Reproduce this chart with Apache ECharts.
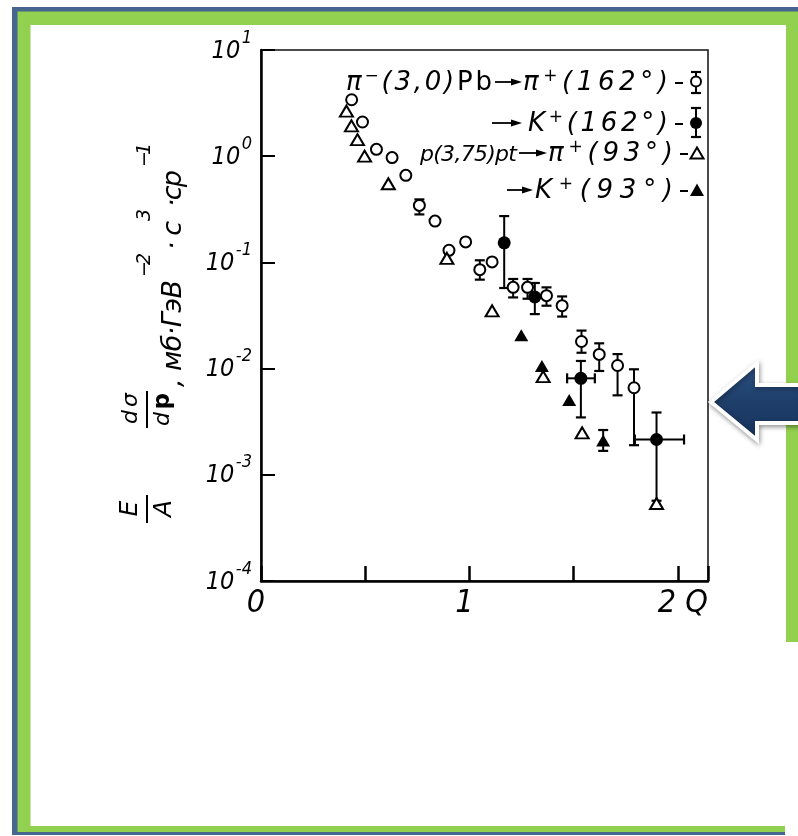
<!DOCTYPE html>
<html><head><meta charset="utf-8">
<script src="https://cdn.jsdelivr.net/npm/echarts@6/dist/echarts.min.js"></script>
<style>html,body{margin:0;padding:0;background:#fff}#c{width:798px;height:836px}</style>
</head><body><div id="c"></div>
<script>
// ---------------- data ----------------
// π⁻(3,0)Pb → π⁺(162°), open circles
const pi162X  = [0.435, 0.487, 0.554, 0.629, 0.695, 0.760, 0.835, 0.902, 0.982, 1.050, 1.109, 1.210, 1.279, 1.370, 1.445, 1.538, 1.623, 1.711, 1.790];
const pi162Y  = [3.40, 2.10, 1.16, 0.97, 0.66, 0.344, 0.245, 0.130, 0.156, 0.0855, 0.101, 0.0582, 0.0582, 0.0486, 0.0391, 0.0180, 0.0136, 0.0107, 0.0066];
const pi162Lo = [0, 0, 0, 0, 0, 0.283, 0, 0, 0, 0.0688, 0, 0.0468, 0.0455, 0.0391, 0.0309, 0.0141, 0.0095, 0.0056, 0.0019];
const pi162Hi = [0, 0, 0, 0, 0, 0.392, 0, 0, 0, 0.1047, 0, 0.0698, 0.0698, 0.0582, 0.0478, 0.0228, 0.0173, 0.0137, 0.00985];
// → K⁺(162°), filled circles
const k162X   = [1.167, 1.314, 1.535, 1.898];
const k162Y   = [0.153, 0.0472, 0.0081, 0.00215];
const k162Lo  = [0.0574, 0.0326, 0.00347, 0.00057];
const k162Hi  = [0.273, 0.064, 0.0118, 0.00386];
const k162XLo = [0, 0, 1.469, 1.794];
const k162XHi = [0, 0, 1.602, 2.030];
// p(3,75)pt → π⁺(93°), open triangles
const pi93X   = [0.410, 0.434, 0.463, 0.497, 0.611, 0.892, 1.109, 1.354, 1.541, 1.898];
const pi93Y   = [2.66, 1.93, 1.43, 1.00, 0.55, 0.109, 0.035, 0.0084, 0.00248, 0.000537];
// → K⁺(93°), filled triangles
const k93X    = [1.249, 1.348, 1.479, 1.642];
const k93Y    = [0.0206, 0.0106, 0.00505, 0.0021];
const k93Lo   = [0, 0, 0, 0.00168];
const k93Hi   = [0, 0, 0, 0.00264];
// axis / legend text
const xTickLabels = {0: '0', 1: '1', 2: '2 Q'};
const yTickExps = [-4, -3, -2, -1, 0, 1];
const legendSource = ['π⁻(3,0)Pb', '', 'p(3,75)pt', ''];
const legendTarget = ['π⁺(162°)', 'K⁺(162°)', 'π⁺(93°)', 'K⁺(93°)'];
const yTitleParts = [', мб·ГэВ', '−2', '·с', '3', '·ср', '−1'];
const yTitleIsSup = [false, true, false, true, false, true];

// ---------------- helpers ----------------
const chart = echarts.init(document.getElementById('c'), null, {renderer: 'canvas'});
const mctx = document.createElement('canvas').getContext('2d');
const MID = 0.35;
function measure(c) { mctx.font = `${c.style||'normal'} ${c.weight||'normal'} ${c.size}px ${c.family}`; return mctx.measureText(c.t).width; }
function textEl(c, x, yMid) {
  return {type: 'text', x: x, y: yMid, silent: true,
    style: {text: c.t, fontSize: c.size, fontFamily: c.family, fontStyle: c.style || 'normal',
            fontWeight: c.weight || 'normal', fill: '#000', align: 'left', verticalAlign: 'middle'}};
}
function layoutRun(chars, x0, x1, baseline) {
  const ws = chars.map(measure);
  const tot = ws.reduce((a, b) => a + b, 0);
  const n = chars.length;
  const gap = n > 1 ? ((x1 - x0) - tot) / (n - 1) : 0;
  let x = n > 1 ? x0 : (x0 + x1 - tot) / 2;
  const out = [];
  chars.forEach((c, i) => {
    out.push(textEl(c, x, baseline - (c.raise || 0) - MID * c.size));
    x += ws[i] + gap;
  });
  return out;
}
const LF = "'DejaVu Sans', 'Liberation Sans', sans-serif";
const TF = "'Liberation Sans Narrow', 'DejaVu Sans Condensed', 'Liberation Sans', sans-serif";
function charsOf(str, base, sup, upright) {
  const arr = [];
  for (const ch of str) {
    if (ch === '⁻') arr.push(Object.assign({}, sup, {t: '−'}));
    else if (ch === '⁺') arr.push(Object.assign({}, sup, {t: '+'}));
    else if (upright && upright.indexOf(ch) >= 0) arr.push(Object.assign({}, base, {t: ch, style: 'normal'}));
    else arr.push(Object.assign({}, base, {t: ch}));
  }
  return arr;
}

// ---------------- legend graphics ----------------
const legBase = {size: 26, family: LF, style: 'italic'};
const legBaseSmall = {size: 22, family: LF, style: 'italic'};
const legSup = {size: 17, family: LF, style: 'italic', raise: 9};
const rowBase = [92, 133, 163, 200];
const rowMid = [82, 123, 153, 190];
const srcRange = [[346, 492], null, [420, 517], null];
const arrRange = [[495, 522], [492, 522], [519, 547], [507, 533]];
const tgtRange = [[523, 668], [528, 668], [548, 673], [535, 673]];
const dashRange = [[675, 683], [675, 683], [680, 688], [680, 688]];
const legendEls = [];
for (let r = 0; r < 4; r++) {
  if (legendSource[r]) legendEls.push(...layoutRun(charsOf(legendSource[r], r === 0 ? legBase : legBaseSmall, legSup, r === 0 ? 'Pb' : ''), srcRange[r][0], srcRange[r][1], rowBase[r]));
  legendEls.push(...layoutRun(charsOf(legendTarget[r], legBase, legSup), tgtRange[r][0], tgtRange[r][1], rowBase[r]));
  const [a0, a1] = arrRange[r];
  legendEls.push({type: 'line', silent: true, shape: {x1: a0, y1: rowMid[r], x2: a1 - 8, y2: rowMid[r]}, style: {stroke: '#000', lineWidth: 1.8}});
  legendEls.push({type: 'polygon', silent: true, shape: {points: [[a1 - 11, rowMid[r] - 3.5], [a1, rowMid[r]], [a1 - 11, rowMid[r] + 3.5]]}, style: {fill: '#000'}});
  legendEls.push({type: 'line', silent: true, shape: {x1: dashRange[r][0], y1: rowMid[r] + 1, x2: dashRange[r][1], y2: rowMid[r] + 1}, style: {stroke: '#000', lineWidth: 2}});
}
function errGlyph(cx, y0, y1) {
  return [
    {type: 'line', silent: true, shape: {x1: cx, y1: y0, x2: cx, y2: y1}, style: {stroke: '#000', lineWidth: 2}},
    {type: 'line', silent: true, shape: {x1: cx - 5, y1: y0, x2: cx + 5, y2: y0}, style: {stroke: '#000', lineWidth: 2.2}},
    {type: 'line', silent: true, shape: {x1: cx - 5, y1: y1, x2: cx + 5, y2: y1}, style: {stroke: '#000', lineWidth: 2.2}}
  ];
}
legendEls.push(...errGlyph(696, 72, 93));
legendEls.push({type: 'circle', silent: true, shape: {cx: 696, cy: 81.5, r: 5}, style: {fill: '#fff', stroke: '#000', lineWidth: 2}});
legendEls.push(...errGlyph(696, 108, 137));
legendEls.push({type: 'circle', silent: true, shape: {cx: 696, cy: 123, r: 6}, style: {fill: '#000'}});
legendEls.push({type: 'polygon', silent: true, shape: {points: [[697, 147.5], [690.5, 158.5], [703.5, 158.5]]}, style: {fill: '#fff', stroke: '#000', lineWidth: 2}});
legendEls.push({type: 'polygon', silent: true, shape: {points: [[697, 183.5], [690, 196], [704, 196]]}, style: {fill: '#000'}});

// ---------------- rotated y-axis title ----------------
const tBase = {size: 27, family: LF, style: 'italic'};
const tSup = {size: 19, family: LF, style: 'italic', raise: 31};
const titleEls = [];
titleEls.push(...layoutRun([{t: 'E', size: 25, family: LF, style: 'italic'}], 6, 23, -44));
titleEls.push(...layoutRun([{t: 'A', size: 25, family: LF, style: 'italic'}], 6, 23, -10));
titleEls.push({type: 'line', silent: true, shape: {x1: 0, y1: -36, x2: 28, y2: -36}, style: {stroke: '#000', lineWidth: 2}});
titleEls.push(...layoutRun([{t: 'd', size: 22, family: LF, style: 'italic'}, {t: 'σ', size: 22, family: LF, style: 'italic'}], 99, 130, -44));
titleEls.push(...layoutRun([{t: 'd', size: 22, family: LF, style: 'italic'}, {t: 'p', size: 23, family: LF, weight: 'bold'}], 97, 130, -12));
titleEls.push({type: 'line', silent: true, shape: {x1: 95, y1: -36, x2: 132, y2: -36}, style: {stroke: '#000', lineWidth: 2}});
const tRanges = [[136, 243], [246, 270], [273, 302], [303, 313], [316, 353], [356, 380]];
yTitleParts.forEach((p, i) => {
  const st = yTitleIsSup[i] ? tSup : tBase;
  const chars = Array.from(p).map(ch => Object.assign({}, st, {t: ch}));
  titleEls.push(...layoutRun(chars, tRanges[i][0], tRanges[i][1], 0));
});

// ---------------- error bars ----------------
function errData(xs, ys, lo, hi, xlo, xhi) {
  const out = [];
  xs.forEach((x, i) => {
    const a = lo[i] || 0, b = hi[i] || 0, c = xlo ? xlo[i] : 0, d = xhi ? xhi[i] : 0;
    if (a > 0 || c > 0) out.push([x, ys[i], a, b, c, d]);
  });
  return out;
}
const errAll = [].concat(
  errData(pi162X, pi162Y, pi162Lo, pi162Hi),
  errData(k162X, k162Y, k162Lo, k162Hi, k162XLo, k162XHi),
  errData(k93X, k93Y, k93Lo, k93Hi)
);
function renderErr(params, api) {
  const x = api.value(0), y = api.value(1), lo = api.value(2), hi = api.value(3), xlo = api.value(4), xhi = api.value(5);
  const st = {stroke: '#000', lineWidth: 2};
  const cs = {stroke: '#000', lineWidth: 2.2};
  const cap = 5;
  const ch = [];
  if (lo > 0 && hi > 0) {
    const p0 = api.coord([x, lo]), p1 = api.coord([x, hi]);
    ch.push({type: 'line', shape: {x1: p0[0], y1: p0[1], x2: p1[0], y2: p1[1]}, style: st});
    ch.push({type: 'line', shape: {x1: p0[0] - cap, y1: p0[1], x2: p0[0] + cap, y2: p0[1]}, style: cs});
    ch.push({type: 'line', shape: {x1: p1[0] - cap, y1: p1[1], x2: p1[0] + cap, y2: p1[1]}, style: cs});
  }
  if (xlo > 0 && xhi > 0) {
    const q0 = api.coord([xlo, y]), q1 = api.coord([xhi, y]);
    ch.push({type: 'line', shape: {x1: q0[0], y1: q0[1], x2: q1[0], y2: q1[1]}, style: st});
    ch.push({type: 'line', shape: {x1: q0[0], y1: q0[1] - cap, x2: q0[0], y2: q0[1] + cap}, style: cs});
    ch.push({type: 'line', shape: {x1: q1[0], y1: q1[1] - cap, x2: q1[0], y2: q1[1] + cap}, style: cs});
  }
  return {type: 'group', children: ch};
}
const zip = (xs, ys) => xs.map((x, i) => [x, ys[i]]);

// ---------------- frame & arrow ----------------
const frameEls = [
  {type: 'rect', z: -20, silent: true, shape: {x: 12, y: 7, width: 800, height: 828}, style: {fill: '#46658f'}},
  {type: 'rect', z: -19, silent: true, shape: {x: 17.5, y: 11.5, width: 800, height: 820.5}, style: {fill: '#92d050'}},
  {type: 'rect', z: -18, silent: true, shape: {x: 30.5, y: 25, width: 755.5, height: 801}, style: {fill: '#ffffff'}},
  {type: 'rect', z: -18, silent: true, shape: {x: 785, y: 642, width: 20, height: 200}, style: {fill: '#ffffff'}}
];
const arrowEl = {type: 'polygon', z: 50, silent: true,
  shape: {points: [[711, 402], [757, 363], [757, 385], [802, 385], [802, 423], [757, 423], [757, 440]]},
  style: {fill: new echarts.graphic.LinearGradient(0, 0, 0, 1, [{offset: 0, color: '#2d5284'}, {offset: 0.5, color: '#1f3f6b'}, {offset: 1, color: '#15325a'}]),
          stroke: '#ffffff', lineWidth: 4, lineJoin: 'miter', shadowBlur: 5, shadowColor: 'rgba(0,0,0,0.35)', shadowOffsetX: 1, shadowOffsetY: 2}};

const xLabRich = {
  z: {fontSize: 32, fontFamily: TF, fontStyle: 'italic', color: '#000', padding: [0, 10, 0, 0]},
  q: {fontSize: 32, fontFamily: TF, fontStyle: 'italic', color: '#000', padding: [0, 0, 0, 10]}
};

const option = {
  backgroundColor: '#ffffff',
  animation: false,
  grid: {left: 261, top: 50, width: 447, height: 531, show: true, borderColor: '#111', borderWidth: 1.5, backgroundColor: 'transparent'},
  xAxis: {
    type: 'value', min: 0, max: 2.145, interval: 0.5,
    axisLine: {onZero: false, lineStyle: {color: '#000', width: 2.5}},
    axisTick: {inside: true, length: 15, lineStyle: {color: '#000', width: 2.5}},
    splitLine: {show: false},
    axisLabel: {margin: 7, color: '#000', fontFamily: TF, fontStyle: 'italic', fontSize: 32, rich: xLabRich,
      formatter: v => { const k = Math.round(v * 1000) / 1000; const s = xTickLabels[k]; if (!s) return ''; return (k === 2 ? '{q|' : '{z|') + s + '}'; }}
  },
  yAxis: {
    type: 'log', logBase: 10, min: 1e-4, max: 10,
    axisLine: {lineStyle: {color: '#000', width: 2.5}},
    axisTick: {inside: true, length: 14, lineStyle: {color: '#000', width: 2}},
    splitLine: {show: false}, minorTick: {show: false},
    axisLabel: {show: false}
  },
  graphic: [].concat(frameEls, legendEls, [{type: 'group', x: 183, y: 523, rotation: Math.PI / 2, silent: true, children: titleEls}], [arrowEl]),
  series: [
    {type: 'custom', name: 'err', renderItem: renderErr, data: errAll, encode: {x: 0, y: 1}, z: 1, clip: false, silent: true},
    {type: 'scatter', name: 'π⁺(162°)', data: zip(pi162X, pi162Y), symbol: 'circle', symbolSize: 11, z: 3,
      itemStyle: {color: '#fff', borderColor: '#000', borderWidth: 2, opacity: 1}},
    {type: 'scatter', name: 'K⁺(162°)', data: zip(k162X, k162Y), symbol: 'circle', symbolSize: 13, z: 3,
      itemStyle: {color: '#000', opacity: 1}},
    {type: 'scatter', name: 'π⁺(93°)', data: zip(pi93X, pi93Y), symbol: 'triangle', symbolSize: [13, 11], z: 3,
      itemStyle: {color: '#fff', borderColor: '#000', borderWidth: 2, opacity: 1}},
    {type: 'scatter', name: 'K⁺(93°)', data: zip(k93X, k93Y), symbol: 'triangle', symbolSize: [14, 12], z: 3,
      itemStyle: {color: '#000', opacity: 1}}
  ]
};
chart.setOption(option);

// y tick labels "10^n", positioned through the axis scale
const yLabelEls = [];
yTickExps.forEach(e => {
  const py = chart.convertToPixel({yAxisIndex: 0}, Math.pow(10, e));
  const sup = {t: e < 0 ? '-' + (-e) : String(e), size: 18, family: TF, style: 'italic'};
  const base = {t: '10', size: 25, family: TF, style: 'italic'};
  const ws = measure(sup), wb = measure(base);
  const right = 252;
  const sx = right - ws, bx = sx - 1.5 - wb;
  yLabelEls.push(textEl(base, bx, py + 1));
  yLabelEls.push(textEl(sup, sx, py - 12));
});
option.graphic = option.graphic.concat(yLabelEls);
chart.setOption(option, true);
</script>
</body></html>
